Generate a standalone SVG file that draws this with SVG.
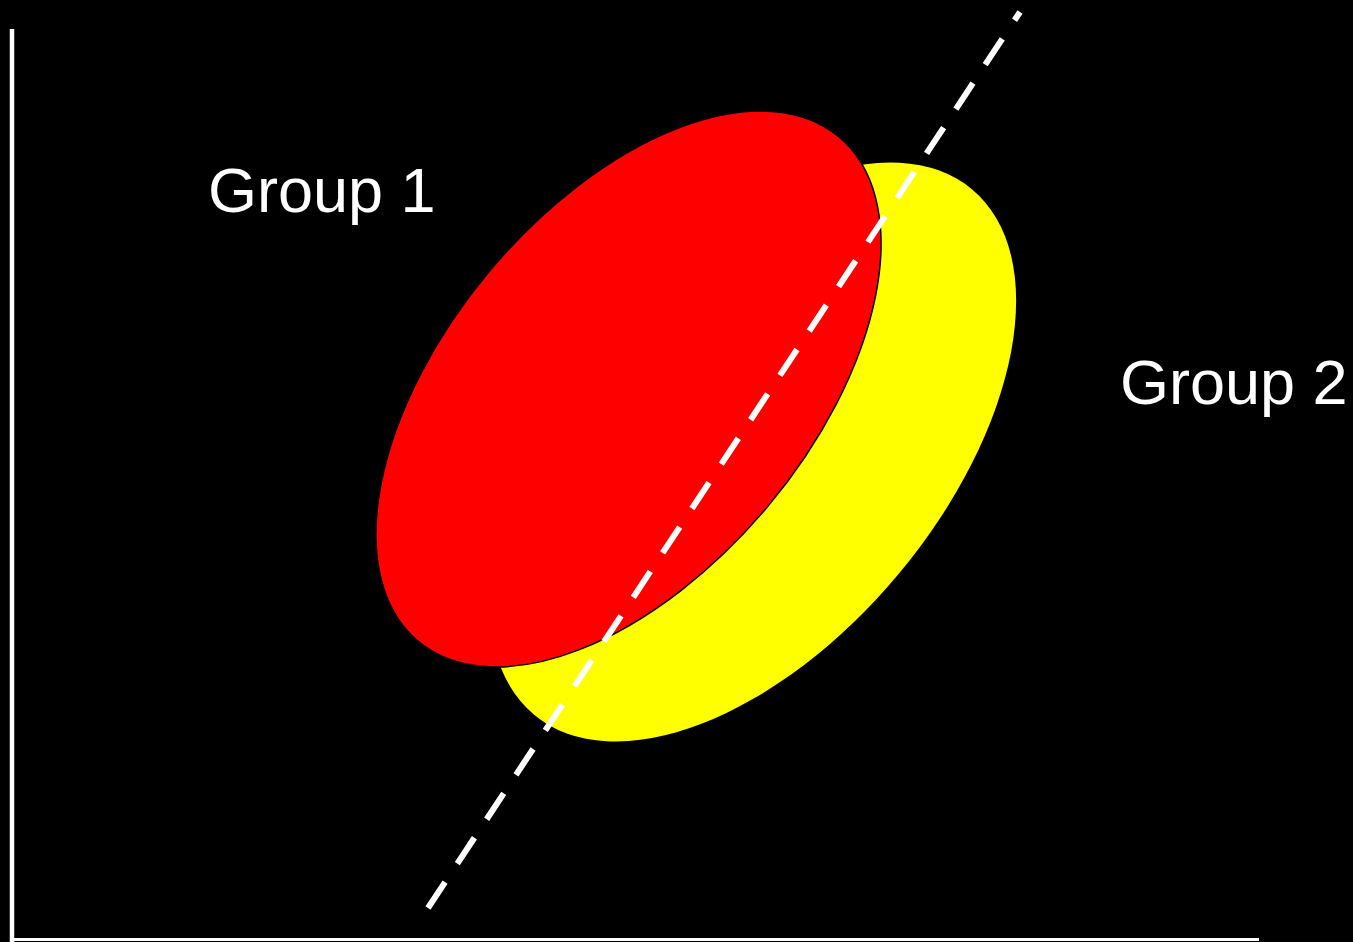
<svg xmlns="http://www.w3.org/2000/svg" width="1353" height="942" viewBox="0 0 1353 942">
<style>
.lbl{font-family:"Liberation Sans",Arial,sans-serif;font-size:63px;fill:#fff}
.axis{stroke:#fff;fill:none}
</style>
<rect width="1353" height="942" fill="#000"/>
<g id="axes">
<line class="axis" x1="12" y1="29" x2="12" y2="942" stroke-width="4.5"/>
<line class="axis" x1="14" y1="939.5" x2="1259" y2="939.5" stroke-width="3"/>
</g>
<g id="group2">
<ellipse cx="753" cy="452" rx="342" ry="190" transform="rotate(-50.2 753 452)" fill="#ffff00"/>
</g>
<g id="group1">
<ellipse cx="628.5" cy="389" rx="328.4" ry="182.2" transform="rotate(-50.2 628.5 389)" fill="#ff0000" stroke="#000" stroke-width="1.5"/>
</g>
<g id="connectors">
<line x1="428" y1="908" x2="1020" y2="12" stroke="#fff" stroke-width="6" stroke-dasharray="31 22.2"/>
</g>
<g id="labels">
<text class="lbl" x="208" y="212">Group 1</text>
<text class="lbl" x="1120" y="404">Group 2</text>
</g>
</svg>
